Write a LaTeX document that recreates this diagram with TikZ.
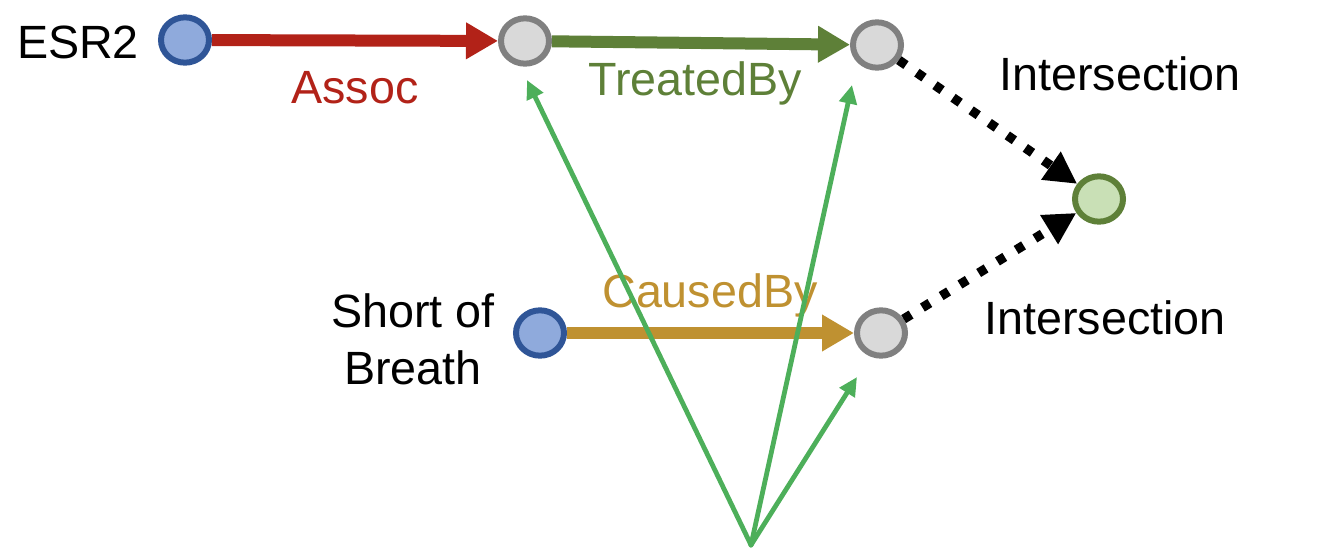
\documentclass[tikz,border=0pt]{standalone}
\usepackage{fontspec}
\setmainfont{Liberation Sans}
\usetikzlibrary{shapes.geometric,arrows.meta}
\definecolor{cred}{HTML}{B22218}
\definecolor{cdgreen}{HTML}{5E8038}
\definecolor{cgold}{HTML}{BF9131}
\definecolor{clgreen}{HTML}{4DAF5A}
\definecolor{cbluefill}{HTML}{8FAADC}
\definecolor{cblueline}{HTML}{2F5597}
\definecolor{cgrayfill}{HTML}{D9D9D9}
\definecolor{cgrayline}{HTML}{808080}
\definecolor{ctgtfill}{HTML}{C9E0B6}
\tikzset{
  ent/.style={ellipse,draw=cblueline,fill=cbluefill,line width=4.5pt,minimum width=36pt,minimum height=34pt,inner sep=0pt},
  var/.style={ellipse,draw=cgrayline,fill=cgrayfill,line width=4.5pt,minimum width=36pt,minimum height=34pt,inner sep=0pt},
  tgt/.style={ellipse,draw=cdgreen,fill=ctgtfill,line width=4.5pt,minimum width=36pt,minimum height=34pt,inner sep=0pt},
  lbl/.style={font=\fontsize{35}{40}\selectfont,inner sep=0pt},
  rel/.style={line width=9pt,-{Triangle[length=24pt,width=26pt]}},
  inter/.style={line width=7pt,dash pattern=on 6.5pt off 10pt,-{Triangle[length=24pt,width=24pt]}},
  proj/.style={draw=clgreen,line width=3.6pt,line cap=round,-{Triangle[length=14pt,width=13pt]}}
}
\begin{document}
\begin{tikzpicture}[x=0.75pt,y=-0.75pt]
\useasboundingbox (0,0) rectangle (1338,560);
% labels
\node[lbl,anchor=center] (tesr) at (78,42) {ESR2};
\node[lbl,text=cred] (tassoc) at (355,88) {Assoc};
\node[lbl,text=cdgreen] (ttreat) at (695,83) {TreatedBy};
\node[lbl,text=cgold] (tcaused) at (710,295) {CausedBy};
\node[lbl] (tint1) at (1120,74) {Intersection};
\node[lbl] (tint2) at (1105,318) {Intersection};
\node[lbl,align=center,font=\fontsize{35}{43}\selectfont] (tsob) at (413,339) {Short of\\Breath};
% nodes
\node[ent] (esr) at (185,40) {};
\node[var] (a) at (525,41) {};
\node[var] (b) at (877,45) {};
\node[tgt] (t) at (1099,199) {};
\node[ent] (sob) at (540,333) {};
\node[var] (c) at (881,333) {};
% relations
\draw[rel,cred] (esr) -- (a);
\draw[rel,cdgreen] (a) -- (b);
\draw[rel,cgold] (sob) -- (c);
\draw[inter] (b) -- (t);
\draw[inter] (c) -- (t);
% projection lines
\coordinate (v) at (751,545);
\coordinate (pa) at (527,80);
\coordinate (pb) at (852,85);
\coordinate (pc) at (857,377);
\draw[proj] (v) -- (pa);
\draw[proj] (v) -- (pb);
\draw[proj] (v) -- (pc);
\end{tikzpicture}
\end{document}
